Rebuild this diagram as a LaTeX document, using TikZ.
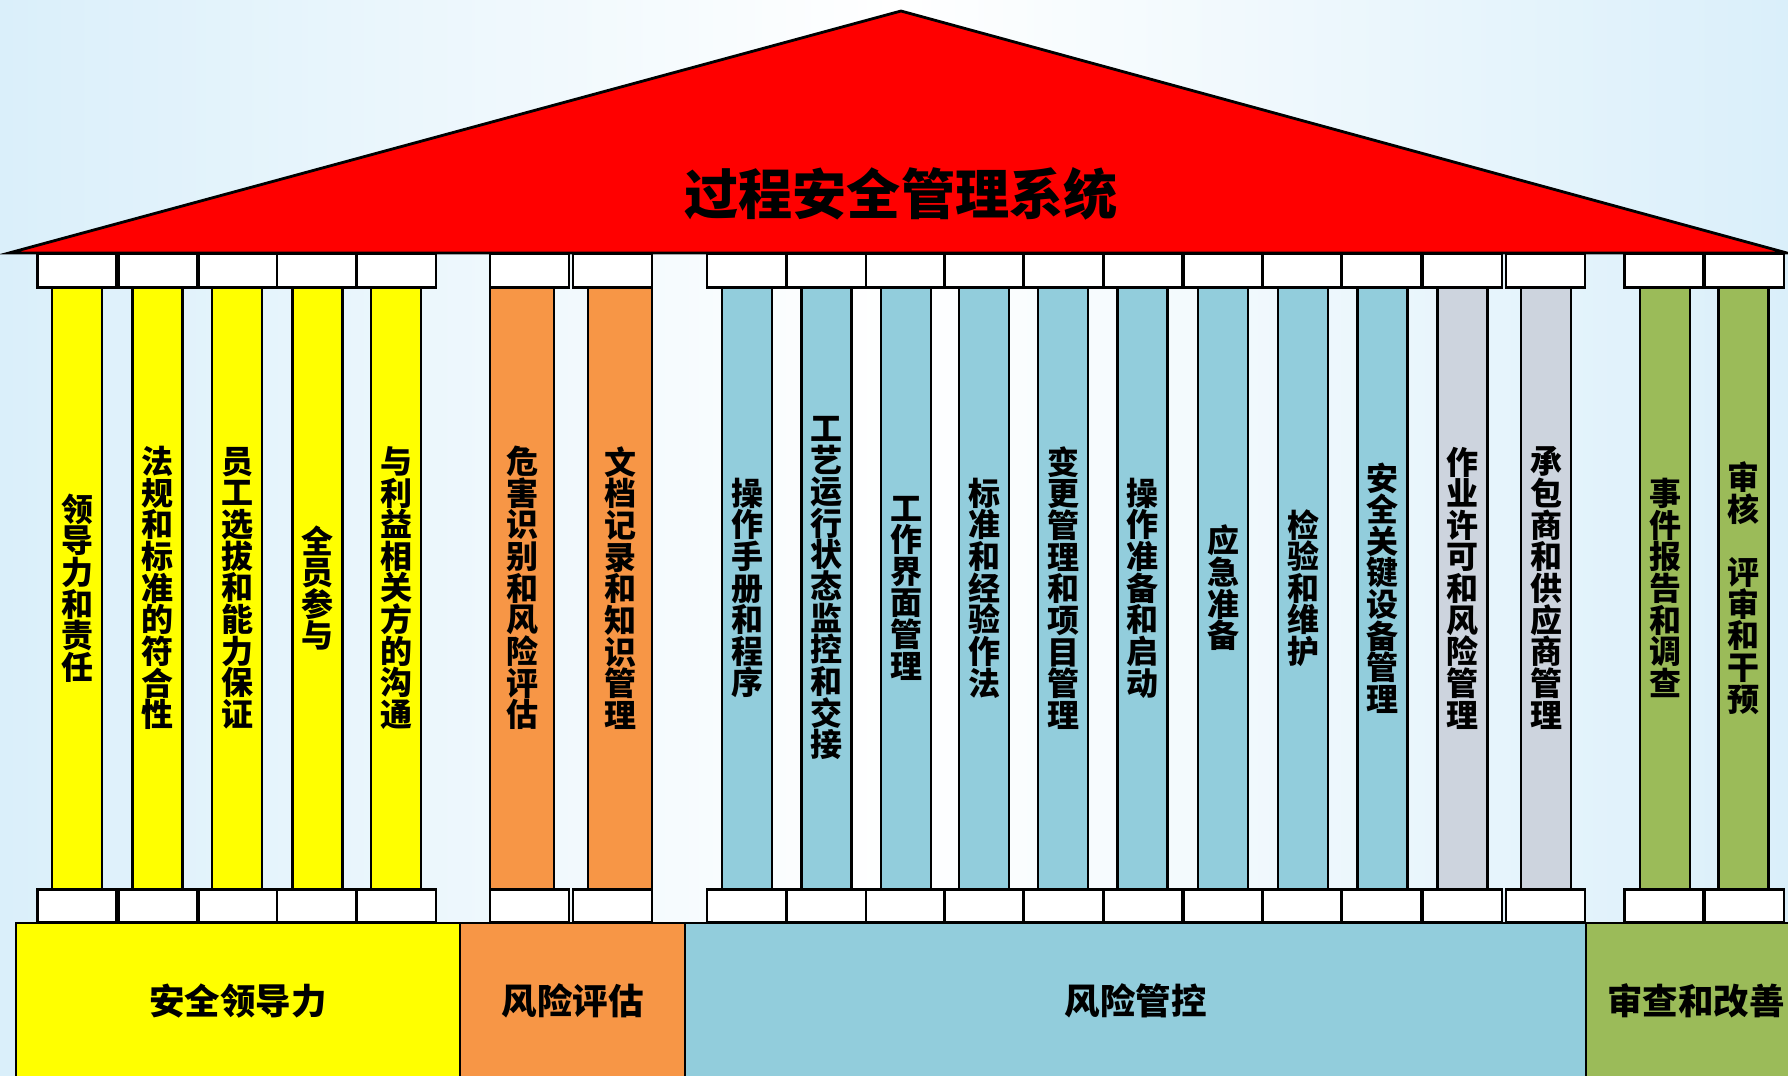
\documentclass[tikz,border=0pt]{standalone}
\usepackage{fontspec}
\newfontfamily\cjk{Noto Sans CJK SC}[BoldFont={Noto Sans CJK SC Black}]
\definecolor{bgblue}{RGB}{218,239,250}
\definecolor{hyellow}{RGB}{255,255,0}
\definecolor{horange}{RGB}{247,150,70}
\definecolor{hblue}{RGB}{146,205,220}
\definecolor{hgray}{RGB}{205,212,222}
\definecolor{hgreen}{RGB}{155,187,89}
\tikzset{
    roof/.style = {draw=black, line width=0.8pt, fill=red, line join=miter},
    roofname/.style = {font=\cjk\bfseries\fontsize{15.4}{18}\selectfont},
    capital/.style = {rectangle, draw=black, line width=0.8pt, fill=white, minimum width=0.79cm, minimum height=0.335cm, inner sep=0pt},
    pillar/.style = {rectangle, draw=black, line width=0.8pt, minimum width=0.5cm, minimum height=6.02cm, inner sep=0pt, align=center, font=\cjk\bfseries\fontsize{9.1}{9}\selectfont},
    pillary/.style = {pillar, fill=hyellow},
    pillaro/.style = {pillar, fill=horange, minimum width=0.64cm},
    pillarb/.style = {pillar, fill=hblue},
    pillarc/.style = {pillar, fill=hgray},
    pillarg/.style = {pillar, fill=hgreen},
    plinth/.style = {rectangle, draw=black, line width=0.8pt, minimum height=1.56cm, inner sep=0pt, font=\cjk\bfseries\fontsize{10.1}{12}\selectfont}
}
\begin{document}
\begin{tikzpicture}[x=0.1mm, y=-0.1mm]
\useasboundingbox (0,0) rectangle (1788,1075);
\clip (0,0) rectangle (1788,1075);
\shade[left color=bgblue, right color=bgblue, middle color=white] (0,0) rectangle (1788,1075);
%
% roof
\draw[roof] (9,253) -- (901,11) -- (1787,253) -- cycle;
\node[roofname] at (901,194) (title) {过程安全管理系统};
%
% base
\node[plinth, fill=hyellow, minimum width=4.44cm] at (238,1001) (s1) {安全领导力};
\node[plinth, fill=horange, minimum width=2.25cm] at (572.5,1001) (s2) {风险评估};
\node[plinth, fill=hblue, minimum width=9.01cm] at (1135.5,1001) (s3) {风险管控};
\node[plinth, fill=hgreen, minimum width=2.2cm] at (1696,1001) (s4) {审查和改善};
%
% pillars
\node[pillary] at (77,588) (p1) {领\\导\\力\\和\\责\\任};
\node[pillary] at (157.5,588) (p2) {法\\规\\和\\标\\准\\的\\符\\合\\性};
\node[pillary] at (237,588) (p3) {员\\工\\选\\拔\\和\\能\\力\\保\\证};
\node[pillary] at (317.5,588) (p4) {全\\员\\参\\与};
\node[pillary] at (396,588) (p5) {与\\利\\益\\相\\关\\方\\的\\沟\\通};
\node[pillaro] at (522,588) (p6) {危\\害\\识\\别\\和\\风\\险\\评\\估};
\node[pillaro] at (620,588) (p7) {文\\档\\记\\录\\和\\知\\识\\管\\理};
\node[pillarb] at (747,588) (p8) {操\\作\\手\\册\\和\\程\\序};
\node[pillarb] at (826.5,588) (p9) {工\\艺\\运\\行\\状\\态\\监\\控\\和\\交\\接};
\node[pillarb] at (906,588) (p10) {工\\作\\界\\面\\管\\理};
\node[pillarb] at (984,588) (p11) {标\\准\\和\\经\\验\\作\\法};
\node[pillarb] at (1063,588) (p12) {变\\更\\管\\理\\和\\项\\目\\管\\理};
\node[pillarb] at (1142.5,588) (p13) {操\\作\\准\\备\\和\\启\\动};
\node[pillarb] at (1223,588) (p14) {应\\急\\准\\备};
\node[pillarb] at (1303,588) (p15) {检\\验\\和\\维\\护};
\node[pillarb] at (1382.5,588) (p16) {安\\全\\关\\键\\设\\备\\管\\理};
\node[pillarc] at (1462.5,588) (p17) {作\\业\\许\\可\\和\\风\\险\\管\\理};
\node[pillarc] at (1546,588) (p18) {承\\包\\商\\和\\供\\应\\商\\管\\理};
\node[pillarg] at (1665,588) (p19) {事\\件\\报\\告\\和\\调\\查};
\node[pillarg] at (1743.5,588) (p20) {审\\核\\[9pt]评\\审\\和\\干\\预};
%
% capitals, top
\node[capital] at (77,270.5) (t1) {};
\node[capital] at (158,270.5) (t2) {};
\node[capital] at (238,270.5) (t3) {};
\node[capital] at (316.5,270.5) (t4) {};
\node[capital] at (396.5,270.5) (t5) {};
\node[capital] at (529.5,270.5) (t6) {};
\node[capital] at (612.5,270.5) (t7) {};
\node[capital] at (746.5,270.5) (t8) {};
\node[capital] at (826.5,270.5) (t9) {};
\node[capital] at (905.5,270.5) (t10) {};
\node[capital] at (984,270.5) (t11) {};
\node[capital] at (1063.5,270.5) (t12) {};
\node[capital] at (1143,270.5) (t13) {};
\node[capital] at (1223,270.5) (t14) {};
\node[capital] at (1302,270.5) (t15) {};
\node[capital] at (1381.5,270.5) (t16) {};
\node[capital] at (1462.5,270.5) (t17) {};
\node[capital] at (1545.5,270.5) (t18) {};
\node[capital] at (1664,270.5) (t19) {};
\node[capital] at (1744.5,270.5) (t20) {};
%
% capitals, bottom
\node[capital] at (77,906) (b1) {};
\node[capital] at (158,906) (b2) {};
\node[capital] at (238,906) (b3) {};
\node[capital] at (316.5,906) (b4) {};
\node[capital] at (396.5,906) (b5) {};
\node[capital] at (529.5,906) (b6) {};
\node[capital] at (612.5,906) (b7) {};
\node[capital] at (746.5,906) (b8) {};
\node[capital] at (826.5,906) (b9) {};
\node[capital] at (905.5,906) (b10) {};
\node[capital] at (984,906) (b11) {};
\node[capital] at (1063.5,906) (b12) {};
\node[capital] at (1143,906) (b13) {};
\node[capital] at (1223,906) (b14) {};
\node[capital] at (1302,906) (b15) {};
\node[capital] at (1381.5,906) (b16) {};
\node[capital] at (1462.5,906) (b17) {};
\node[capital] at (1545.5,906) (b18) {};
\node[capital] at (1664,906) (b19) {};
\node[capital] at (1744.5,906) (b20) {};

\end{tikzpicture}
\end{document}
